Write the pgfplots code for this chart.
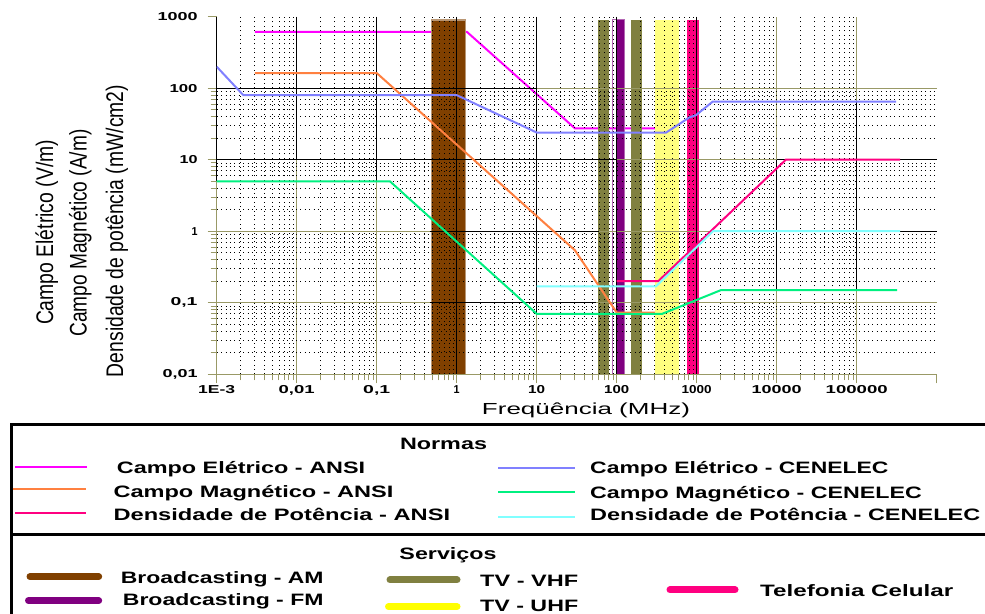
\documentclass[border=0pt]{standalone}
\usepackage{pgfplots}
\pgfplotsset{compat=1.18}
\usepackage{fontspec}
\setmainfont{Liberation Sans}
\usepackage{graphicx}

\definecolor{cmag}{RGB}{255,0,255}
\definecolor{corange}{RGB}{255,128,64}
\definecolor{cpink}{RGB}{255,0,128}
\definecolor{cblue}{RGB}{128,128,255}
\definecolor{cgreen}{RGB}{0,240,128}
\definecolor{ccyan}{RGB}{128,255,255}
\definecolor{bbrown}{RGB}{128,64,0}
\definecolor{bpurple}{RGB}{128,0,128}
\definecolor{bolive}{RGB}{128,128,64}
\definecolor{byellow}{RGB}{255,255,128}
\definecolor{lyellow}{RGB}{255,255,0}
\definecolor{gridol}{RGB}{153,153,102}

\newcommand{\tl}[2]{\resizebox{#1bp}{\height}{\fontsize{11.5bp}{13bp}\selectfont\bfseries #2}}
\newcommand{\lgt}[2]{\resizebox{#1bp}{\height}{\fontsize{16.5bp}{19bp}\selectfont\bfseries #2}}
\newcommand{\ylt}[2]{\resizebox{#1bp}{\height}{\fontsize{24bp}{28bp}\selectfont #2}}

\begin{document}
\begin{tikzpicture}[x=1bp,y=1bp]

\begin{axis}[
  at={(216.7bp,239.7bp)}, anchor=south west,
  scale only axis, width=720bp, height=357.6bp,
  xmode=log, ymode=log, xmin=1e-3, xmax=1e6, ymin=0.01, ymax=1000,
  set layers,
  axis x line=bottom, axis y line=left,
  axis line style={-, draw=gridol, line width=1.3bp},
  xtick={1e-3,1e-2,1e-1,1,10,100,1000,10000,100000},
  xticklabels={{\tl{37}{1E-3}},{\tl{36}{0,01}},{\tl{27}{0,1}},{\tl{6}{1}},{\tl{17}{10}},{\tl{25}{100}},{\tl{30}{1000}},{\tl{50}{10000}},{\tl{62}{100000}}},
  extra x ticks={1e6}, extra x tick labels={}, extra x tick style={grid=none},
  ytick={0.01,0.1,1,10,100},
  yticklabels={{\tl{35}{0,01}},{\tl{27}{0,1}},{\tl{6}{1}},{\tl{18}{10}},{\tl{28}{100}}},
  extra y ticks={1000}, extra y tick labels={{\tl{40}{1000}}}, extra y tick style={grid=none},
  tick align=outside, major tick length=9bp, minor tick length=6bp,
  tick style={gridol, line width=1bp},
  grid=both,
  major grid style={gridol, line width=1.3bp},
  minor grid style={black, line width=0.8bp, dash pattern=on 0.8bp off 3.6bp},
  xticklabel style={anchor=north, inner sep=0pt},
  yticklabel style={anchor=east, inner sep=0pt},
  xticklabel shift=2bp,
  yticklabel shift=10bp,
]
% ANSI electric field (under the bands)
\addplot[on layer=axis background, cmag, line width=2bp] coordinates {(0.003,614) (1.34,614) (30,27.5) (320,27.5)};
% service bands
\addplot[on layer=axis background, fill=bbrown, draw=bbrown!55, line width=1.2bp] coordinates {(0.48,0.01) (0.48,900) (1.3,900) (1.3,0.01)};
\addplot[on layer=axis background, fill=bolive, draw=none] coordinates {(58,0.01) (58,900) (79,900) (79,0.01)};
\addplot[on layer=axis background, fill=bolive, draw=none] coordinates {(152,0.01) (152,900) (208,900) (208,0.01)};
\addplot[on layer=axis background, draw=bpurple!60, line width=1bp] coordinates {(88.7,0.01) (88.7,900) (125,900) (125,0.01)};
\addplot[on layer=axis background, fill=bpurple, draw=none] coordinates {(102,0.01) (102,900) (125,900) (125,0.01)};
\addplot[on layer=axis background, fill=byellow, draw=none] coordinates {(300,0.01) (300,900) (600,900) (600,0.01)};
\addplot[on layer=axis background, fill=cpink, draw=none] coordinates {(750,0.01) (750,900) (1060,900) (1060,0.01)};

\begin{pgfonlayer}{pre main}
\draw[black, line width=1.3bp] (1e-3,1000) -- (1e-3,5);
\draw[black, line width=1.3bp] (0.01,1000) -- (0.01,10);
\draw[black, line width=1.3bp] (0.1,1000) -- (0.1,5);
\draw[black, line width=1.3bp] (1,1000) -- (1,0.01);
\draw[black, line width=1.3bp] (10,1000) -- (10,0.07);
\draw[black, line width=1.3bp] (100,1000) -- (100,0.01);
\draw[black, line width=1.3bp] (1000,1000) -- (1000,0.01);
\draw[black, line width=1.3bp] (10000,10) -- (10000,0.15);
\draw[black, line width=1.3bp] (100000,65) -- (100000,0.15);
\draw[black, line width=1.3bp] (1e-3,100) -- (10,100);
\draw[black, line width=1.3bp] (1e-3,10) -- (100,10);
\draw[black, line width=1.3bp] (10000,10) -- (1e6,10);
\draw[black, line width=1.3bp] (0.46,1) -- (60,1);
\draw[black, line width=1.3bp] (2000,1) -- (1e6,1);
\draw[black, line width=1.3bp] (0.46,0.1) -- (55,0.1);
\end{pgfonlayer}

% limits
\addplot[corange, line width=2bp] coordinates {(0.003,163) (0.1,163) (30,0.543) (100,0.0729) (300,0.0729)};
\addplot[cpink, line width=2bp] coordinates {(100,0.2) (330,0.2) (13000,10) (350000,10)};
\addplot[cblue, line width=2bp] coordinates {(0.001,200) (0.00215,80) (1,80) (10,24) (415,24) (810,39) (980,42) (1585,65) (310000,65)};
\addplot[cgreen, line width=2bp] coordinates {(0.001,5) (0.146,5) (10,0.07) (370,0.07) (2000,0.15) (320000,0.15)};
\addplot[ccyan, line width=2bp] coordinates {(10,0.17) (310,0.17) (1600,1) (350000,1)};
\end{axis}

% axis titles
\node[anchor=base] at (586,199) {\resizebox{208bp}{\height}{\fontsize{16bp}{19bp}\selectfont Freqüência (MHz)}};
\node[rotate=90, anchor=base, inner sep=0pt] at (53.1,381.5) {\ylt{185}{Campo Elétrico (V/m)}};
\node[rotate=90, anchor=base, inner sep=0pt] at (86.5,381) {\ylt{207}{Campo Magnético (A/m)}};
\node[rotate=90, anchor=base, inner sep=0pt] at (123.1,383) {\ylt{292}{Densidade de potência (mW/cm2)}};

% legend frame
\draw[line width=3bp] (11,0) -- (11,189) -- (985,189);
\draw[line width=3bp] (11,79) -- (985,79);

\node[anchor=base, inner sep=0pt] at (443.5,164) {\lgt{87}{Normas}};
\draw[cmag, line width=2bp] (15,147.3) -- (87.3,147.3);
\node[anchor=base west, inner sep=0pt] at (116.7,140.7) {\lgt{248.3}{Campo Elétrico - ANSI}};
\draw[corange, line width=2bp] (12.7,125) -- (86,125);
\node[anchor=base west, inner sep=0pt] at (113.3,116.3) {\lgt{280}{Campo Magnético - ANSI}};
\draw[cpink, line width=2bp] (15,100.7) -- (86,100.7);
\node[anchor=base west, inner sep=0pt] at (113.3,93) {\lgt{336.7}{Densidade de Potência - ANSI}};
\draw[cblue, line width=2bp] (498.3,146.3) -- (575,146.3);
\node[anchor=base west, inner sep=0pt] at (590,140.7) {\lgt{298.3}{Campo Elétrico - CENELEC}};
\draw[cgreen, line width=2bp] (498.3,122.3) -- (575,122.3);
\node[anchor=base west, inner sep=0pt] at (590,115.7) {\lgt{331.7}{Campo Magnético - CENELEC}};
\draw[ccyan, line width=2bp] (498.3,97.3) -- (575,97.3);
\node[anchor=base west, inner sep=0pt] at (590,93.3) {\lgt{390}{Densidade de Potência - CENELEC}};

\node[anchor=base, inner sep=0pt] at (448,54) {\lgt{97}{Serviços}};
\draw[bbrown, line width=7bp, line cap=round] (30,37.3) -- (98.7,37.3);
\node[anchor=base west, inner sep=0pt] at (120.7,30.7) {\lgt{202.7}{Broadcasting - AM}};
\draw[bpurple, line width=7bp, line cap=round] (28.5,13.3) -- (98.7,13.3);
\node[anchor=base west, inner sep=0pt] at (122.7,8) {\lgt{200.6}{Broadcasting - FM}};
\draw[bolive, line width=7bp, line cap=round] (390,34) -- (457,34);
\node[anchor=base west, inner sep=0pt] at (480,27.3) {\lgt{98}{TV - VHF}};
\draw[lyellow, line width=7bp, line cap=round] (388.5,7.3) -- (457,7.3);
\node[anchor=base west, inner sep=0pt] at (480,2.3) {\lgt{98}{TV - UHF}};
\draw[cpink, line width=7bp, line cap=round] (670,24) -- (735,24);
\node[anchor=base west, inner sep=0pt] at (760,17.3) {\lgt{193}{Telefonia Celular}};

\pgfresetboundingbox
\path[use as bounding box] (0,0) rectangle (985,614);
\end{tikzpicture}
\end{document}
